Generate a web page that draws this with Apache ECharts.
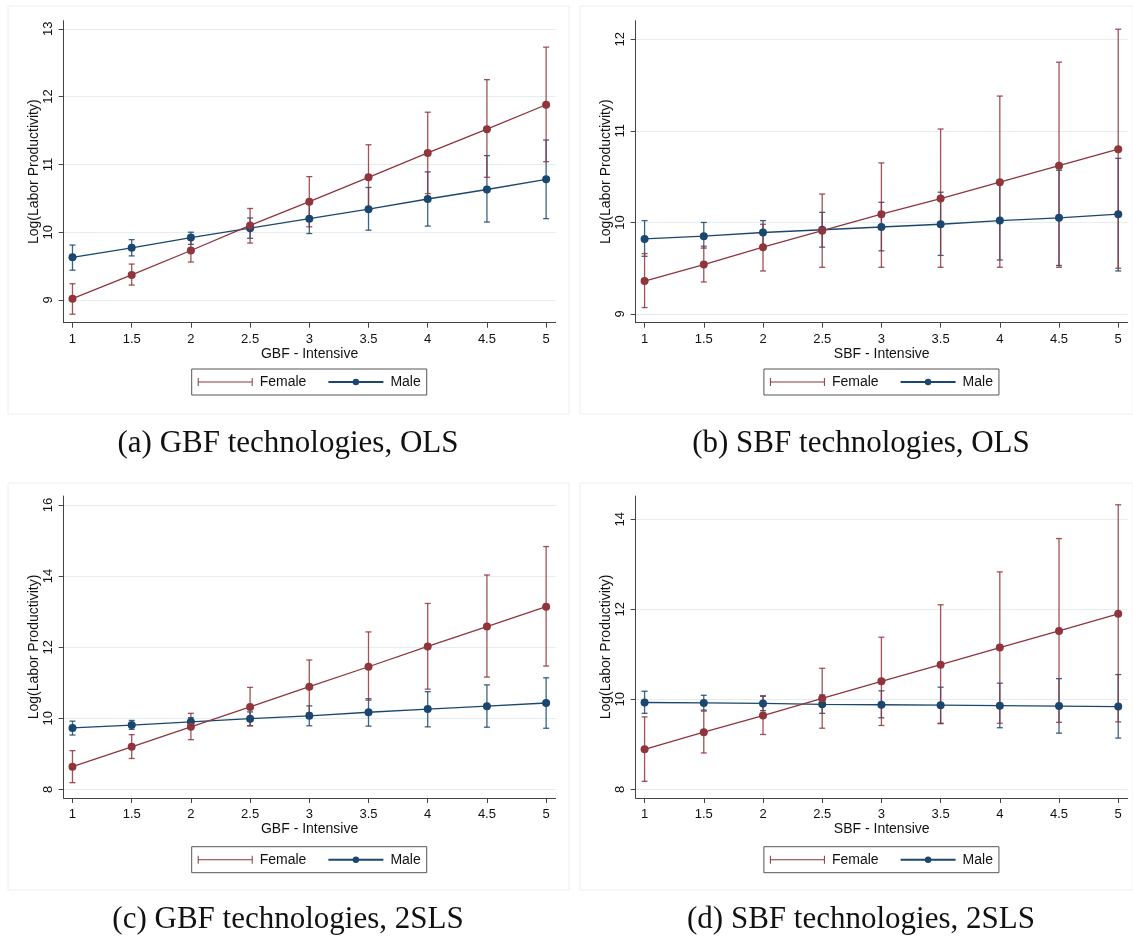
<!DOCTYPE html>
<html>
<head>
<meta charset="utf-8">
<script src="https://cdn.jsdelivr.net/npm/echarts@6/dist/echarts.min.js"></script>
<style>
  html, body { margin: 0; padding: 0; background: #fff; }
  #chart { width: 1133px; height: 939px; }
</style>
</head>
<body>
<div id="chart"></div>
<script>
// x levels (technology intensity)
const xLevels = [1, 1.5, 2, 2.5, 3, 3.5, 4, 4.5, 5];

// (a) GBF technologies, OLS
const gbfOlsFemale   = [9.02, 9.37, 9.73, 10.10, 10.45, 10.81, 11.17, 11.52, 11.88];
const gbfOlsFemaleLo = [8.79, 9.22, 9.56, 9.84, 10.08, 10.33, 10.57, 10.81, 11.04];
const gbfOlsFemaleHi = [9.24, 9.53, 9.91, 10.35, 10.82, 11.29, 11.77, 12.25, 12.73];
const gbfOlsMale     = [9.63, 9.77, 9.92, 10.06, 10.20, 10.34, 10.49, 10.63, 10.78];
const gbfOlsMaleLo   = [9.44, 9.65, 9.82, 9.91, 9.98, 10.03, 10.09, 10.15, 10.20];
const gbfOlsMaleHi   = [9.81, 9.89, 10.00, 10.21, 10.42, 10.66, 10.89, 11.13, 11.36];

// (b) SBF technologies, OLS
const sbfOlsFemale   = [9.36, 9.54, 9.73, 9.91, 10.09, 10.26, 10.44, 10.62, 10.80];
const sbfOlsFemaleLo = [9.07, 9.35, 9.47, 9.51, 9.51, 9.51, 9.51, 9.51, 9.50];
const sbfOlsFemaleHi = [9.66, 9.74, 9.98, 10.31, 10.65, 11.02, 11.38, 11.75, 12.11];
const sbfOlsMale     = [9.82, 9.85, 9.89, 9.92, 9.95, 9.98, 10.02, 10.05, 10.09];
const sbfOlsMaleLo   = [9.63, 9.72, 9.75, 9.73, 9.69, 9.64, 9.59, 9.53, 9.47];
const sbfOlsMaleHi   = [10.02, 10.00, 10.02, 10.11, 10.22, 10.33, 10.45, 10.57, 10.70];

// (c) GBF technologies, 2SLS
const gbfIvFemale   = [8.64, 9.20, 9.76, 10.32, 10.89, 11.45, 12.02, 12.58, 13.14];
const gbfIvFemaleLo = [8.19, 8.87, 9.40, 9.79, 10.15, 10.51, 10.82, 11.16, 11.47];
const gbfIvFemaleHi = [9.09, 9.54, 10.14, 10.87, 11.64, 12.43, 13.23, 14.03, 14.83];
const gbfIvMale     = [9.73, 9.81, 9.90, 9.99, 10.07, 10.17, 10.26, 10.34, 10.43];
const gbfIvMaleLo   = [9.53, 9.69, 9.79, 9.79, 9.79, 9.78, 9.76, 9.75, 9.72];
const gbfIvMaleHi   = [9.92, 9.94, 10.02, 10.18, 10.35, 10.55, 10.75, 10.94, 11.14];

// (d) SBF technologies, 2SLS
const sbfIvFemale   = [8.89, 9.27, 9.64, 10.02, 10.40, 10.77, 11.15, 11.52, 11.90];
const sbfIvFemaleLo = [8.18, 8.81, 9.22, 9.36, 9.42, 9.46, 9.47, 9.49, 9.50];
const sbfIvFemaleHi = [9.61, 9.74, 10.08, 10.69, 11.38, 12.10, 12.83, 13.57, 14.32];
const sbfIvMale     = [9.93, 9.92, 9.91, 9.89, 9.88, 9.87, 9.86, 9.85, 9.84];
const sbfIvMaleLo   = [9.69, 9.76, 9.75, 9.69, 9.59, 9.47, 9.37, 9.25, 9.14];
const sbfIvMaleHi   = [10.18, 10.09, 10.07, 10.10, 10.19, 10.27, 10.36, 10.46, 10.55];

// y tick labels per panel
const yTicksA = [9, 10, 11, 12, 13];
const yTicksB = [9, 10, 11, 12];
const yTicksC = [8, 10, 12, 14, 16];
const yTicksD = [8, 10, 12, 14];

const captions = [
  '(a) GBF technologies, OLS',
  '(b) SBF technologies, OLS',
  '(c) GBF technologies, 2SLS',
  '(d) SBF technologies, 2SLS'
];

const RED = '#90353B';
const NAVY = '#1A476F';
const sans = 'Liberation Sans, Arial, sans-serif';

const panels = [
  { left: 63.6, top: 20.7, yMin: 8.665, yMax: 13.12, ticks: yTicksA, xName: 'GBF - Intensive',
    f: gbfOlsFemale, fLo: gbfOlsFemaleLo, fHi: gbfOlsFemaleHi, m: gbfOlsMale, mLo: gbfOlsMaleLo, mHi: gbfOlsMaleHi,
    legendLeft: 191.7, legendTop: 369, frame: [8, 6, 561, 408], cap: [288, 444] },
  { left: 635.7, top: 20.7, yMin: 8.905, yMax: 12.203, ticks: yTicksB, xName: 'SBF - Intensive',
    f: sbfOlsFemale, fLo: sbfOlsFemaleLo, fHi: sbfOlsFemaleHi, m: sbfOlsMale, mLo: sbfOlsMaleLo, mHi: sbfOlsMaleHi,
    legendLeft: 763.9, legendTop: 369, frame: [580, 6, 553, 408], cap: [861, 444] },
  { left: 63.6, top: 496, yMin: 7.759, yMax: 16.252, ticks: yTicksC, xName: 'GBF - Intensive',
    f: gbfIvFemale, fLo: gbfIvFemaleLo, fHi: gbfIvFemaleHi, m: gbfIvMale, mLo: gbfIvMaleLo, mHi: gbfIvMaleHi,
    legendLeft: 191.7, legendTop: 846.7, frame: [8, 483, 561, 407], cap: [288, 920] },
  { left: 635.7, top: 496, yMin: 7.81, yMax: 14.515, ticks: yTicksD, xName: 'SBF - Intensive',
    f: sbfIvFemale, fLo: sbfIvFemaleLo, fHi: sbfIvFemaleHi, m: sbfIvMale, mLo: sbfIvMaleLo, mHi: sbfIvMaleHi,
    legendLeft: 763.9, legendTop: 846.7, frame: [580, 483, 553, 407], cap: [861, 920] }
];

// error-bar style legend icon (cap | line | cap)
const capIcon = 'path://M0,0H1V8H0Z M1,3.5H54V4.5H1Z M54,0H55V8H54Z';

const ciSeries = (idx, name, lo, hi, color) => ({
  type: 'custom',
  name: name,
  xAxisIndex: idx,
  yAxisIndex: idx,
  data: xLevels.map((x, i) => [x, lo[i], hi[i]]),
  encode: { x: 0, y: [1, 2] },
  renderItem: (params, api) => {
    const x = api.value(0);
    const p1 = api.coord([x, api.value(1)]);
    const p2 = api.coord([x, api.value(2)]);
    const w = 3;
    const st = { stroke: color, lineWidth: 1.3, opacity: 0.85 };
    return {
      type: 'group',
      children: [
        { type: 'line', shape: { x1: p1[0], y1: p1[1], x2: p2[0], y2: p2[1] }, style: st },
        { type: 'line', shape: { x1: p1[0] - w, y1: p1[1], x2: p1[0] + w, y2: p1[1] }, style: st },
        { type: 'line', shape: { x1: p2[0] - w, y1: p2[1], x2: p2[0] + w, y2: p2[1] }, style: st }
      ]
    };
  }
});

const lineSeries = (idx, name, vals, color) => ({
  type: 'line',
  name: name,
  xAxisIndex: idx,
  yAxisIndex: idx,
  data: xLevels.map((x, i) => [x, vals[i]]),
  symbol: 'circle',
  symbolSize: 8,
  itemStyle: { color: color },
  lineStyle: { color: color, width: 1.3 }
});

const option = {
  animation: false,
  backgroundColor: '#fff',
  grid: panels.map(p => ({
    left: p.left, top: p.top, width: 492, height: 302,
    outerBoundsMode: 'none'
  })),
  xAxis: panels.map((p, i) => ({
    type: 'value',
    gridIndex: i,
    min: 0.925,
    max: 5.08,
    name: p.xName,
    nameLocation: 'middle',
    nameGap: 24,
    nameTextStyle: { fontFamily: sans, fontSize: 14, color: '#111' },
    axisLine: { show: true, lineStyle: { color: '#444', width: 1 } },
    axisTick: { show: true, length: 5, customValues: xLevels, lineStyle: { color: '#444' } },
    axisLabel: { customValues: xLevels, margin: 10, fontFamily: sans, fontSize: 13, color: '#111' },
    splitLine: { show: false }
  })),
  yAxis: panels.map((p, i) => ({
    type: 'value',
    gridIndex: i,
    min: p.yMin,
    max: p.yMax,
    name: 'Log(Labor Productivity)',
    nameLocation: 'middle',
    nameGap: 19,
    nameTextStyle: { fontFamily: sans, fontSize: 14, color: '#111' },
    axisLine: { show: true, lineStyle: { color: '#444', width: 1 } },
    axisTick: { show: true, length: 5, customValues: p.ticks, lineStyle: { color: '#444' } },
    axisLabel: { customValues: p.ticks, rotate: 90, margin: 9, fontFamily: sans, fontSize: 13, color: '#111' },
    splitLine: { show: true, lineStyle: { color: '#E4EEF0', width: 1 } }
  })),
  legend: panels.map(p => ({
    left: p.legendLeft,
    top: p.legendTop,
    orient: 'horizontal',
    data: [{ name: 'Female', icon: capIcon }, { name: 'Male' }],
    itemWidth: 55,
    itemHeight: 8,
    itemGap: 21,
    padding: [6, 6, 6, 6],
    borderColor: '#555',
    borderWidth: 1,
    selectedMode: false,
    textStyle: { fontFamily: sans, fontSize: 14, color: '#111', padding: [0, 0, 0, 2] }
  })),
  graphic: [
    ...panels.map(p => ({
      type: 'rect',
      shape: { x: p.frame[0], y: p.frame[1], width: p.frame[2], height: p.frame[3] },
      style: { fill: 'none', stroke: '#EEEEEE', lineWidth: 1 },
      silent: true
    })),
    ...panels.map((p, i) => ({
      type: 'text',
      x: p.cap[0],
      y: p.cap[1],
      style: {
        text: captions[i],
        fontFamily: 'Liberation Serif, Times New Roman, serif',
        fontSize: 31,
        fill: '#111',
        align: 'center',
        verticalAlign: 'middle'
      }
    }))
  ],
  series: panels.flatMap((p, i) => [
    ciSeries(i, 'Male CI', p.mLo, p.mHi, NAVY),
    ciSeries(i, 'Female CI', p.fLo, p.fHi, RED),
    lineSeries(i, 'Male', p.m, NAVY),
    lineSeries(i, 'Female', p.f, RED)
  ])
};

const chart = echarts.init(document.getElementById('chart'));
chart.setOption(option);
window.addEventListener('resize', () => chart.resize());
</script>
</body>
</html>
